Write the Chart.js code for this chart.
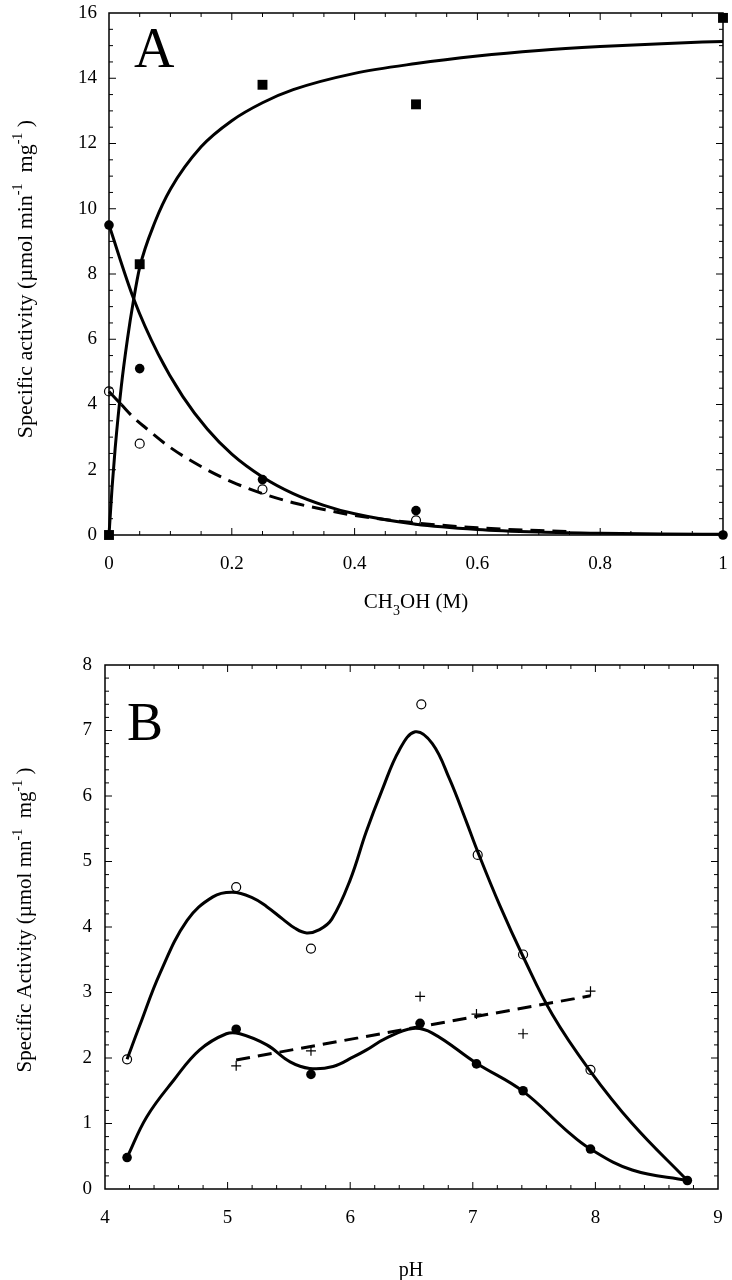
<!DOCTYPE html>
<html>
<head>
<meta charset="utf-8">
<script src="https://cdn.jsdelivr.net/npm/chart.js@4/dist/chart.umd.min.js"></script>
<style>
  html, body { margin: 0; padding: 0; background: #fff; }
  body { width: 732px; height: 1280px; position: relative; overflow: hidden; }
  canvas { position: absolute; left: 0; }
  #chartA { top: 0; }
  #chartB { top: 640px; }
</style>
</head>
<body>
<canvas id="chartA" width="732" height="620"></canvas>
<canvas id="chartB" width="732" height="640"></canvas>
<script>
// Panel A: methanol concentration (M)
const methanolX = [0, 0.05, 0.25, 0.5, 1];
const squaresA = [0, 8.3, 13.8, 13.2, 15.85];
const filledA = [9.5, 5.1, 1.7, 0.75, 0.0];
const openAX = [0, 0.05, 0.25, 0.5];
const openA = [4.4, 2.8, 1.4, 0.45];

// fitted curves
const riseX = [0, 0.005, 0.01, 0.02, 0.03, 0.04, 0.05, 0.075, 0.1, 0.15, 0.2, 0.25, 0.3, 0.4, 0.5, 0.6, 0.7, 0.8, 0.9, 1.0];
const riseY = [0, 1.45, 2.65, 4.55, 6.0, 7.2, 8.2, 9.6, 10.6, 11.9, 12.7, 13.25, 13.65, 14.15, 14.45, 14.68, 14.85, 14.97, 15.06, 15.13];
const decayX = [0, 0.04, 0.08, 0.12, 0.16, 0.2, 0.25, 0.3, 0.35, 0.4, 0.5, 0.6, 0.7, 0.8, 0.9, 1.0];
const decayY = [9.5, 7.25, 5.55, 4.25, 3.25, 2.48, 1.78, 1.27, 0.91, 0.65, 0.33, 0.17, 0.09, 0.05, 0.03, 0.02];
const dashX = [0, 0.02, 0.04, 0.06, 0.1, 0.15, 0.2, 0.25, 0.3, 0.35, 0.4, 0.5, 0.6, 0.75];
const dashY = [4.4, 4.0, 3.6, 3.28, 2.68, 2.1, 1.63, 1.27, 0.99, 0.78, 0.6, 0.37, 0.22, 0.1];

// Panel B: pH
const openBX = [4.18, 5.07, 5.68, 6.58, 7.04, 7.41, 7.96];
const openB = [1.98, 4.61, 3.67, 7.40, 5.10, 3.58, 1.82];
const filledBX = [4.18, 5.07, 5.68, 6.57, 7.03, 7.41, 7.96, 8.75];
const filledB = [0.48, 2.44, 1.75, 2.53, 1.91, 1.50, 0.61, 0.13];
const crossBX = [5.07, 5.68, 6.57, 7.03, 7.41, 7.96];
const crossB = [1.88, 2.11, 2.94, 2.67, 2.37, 3.02];

const openCurveX = [4.18, 4.28, 4.45, 4.67, 4.88, 5.04, 5.2, 5.32, 5.45, 5.55, 5.645, 5.75, 5.85, 6.0, 6.13, 6.26, 6.4, 6.53, 6.67, 6.81, 6.945, 7.04, 7.22, 7.41, 7.65, 7.95, 8.3, 8.75];
const openCurveY = [1.98, 2.48, 3.3, 4.1, 4.46, 4.53, 4.45, 4.31, 4.12, 3.98, 3.91, 3.96, 4.12, 4.72, 5.45, 6.09, 6.70, 6.98, 6.80, 6.26, 5.62, 5.15, 4.33, 3.55, 2.66, 1.82, 1.0, 0.13];
const filledCurveX = [4.18, 4.34, 4.56, 4.77, 4.99, 5.1, 5.32, 5.51, 5.67, 5.86, 6.03, 6.13, 6.29, 6.51, 6.67, 7.03, 7.41, 7.76, 7.96, 8.3, 8.75];
const filledCurveY = [0.48, 1.10, 1.66, 2.12, 2.37, 2.37, 2.2, 1.94, 1.84, 1.87, 2.02, 2.12, 2.30, 2.45, 2.38, 1.92, 1.49, 0.90, 0.61, 0.29, 0.13];
const crossLineX = [5.07, 7.96];
const crossLineY = [1.97, 2.95];

const SERIF = "'Liberation Serif', 'Times New Roman', serif";
Chart.defaults.font.family = SERIF;
Chart.defaults.font.size = 19;
Chart.defaults.color = '#000';

function pts(xs, ys) {
  return xs.map((x, i) => ({ x: x, y: ys[i] }));
}

function curve(xs, ys, dashed, smooth) {
  const ds = {
    data: pts(xs, ys),
    showLine: true,
    pointRadius: 0,
    borderColor: '#000',
    borderWidth: 3,
    borderDash: dashed ? [14, 8] : [],
    clip: false
  };
  if (smooth) ds.tension = 0.4;
  else ds.cubicInterpolationMode = 'monotone';
  return ds;
}

function marks(xs, ys, style, radius, fill) {
  return {
    data: pts(xs, ys),
    showLine: false,
    pointStyle: style,
    pointRadius: radius,
    pointBackgroundColor: fill,
    pointBorderColor: '#000',
    pointBorderWidth: fill === '#fff' || style === 'cross' ? 1.2 : 0,
    clip: false
  };
}

// frame box + inward ticks on all four sides
const frameTicks = {
  id: 'frameTicks',
  afterDraw(chart, args, opts) {
    const ctx = chart.ctx;
    const a = chart.chartArea;
    const xs = chart.scales.x;
    const ys = chart.scales.y;
    ctx.save();
    ctx.strokeStyle = '#000';
    ctx.lineWidth = 1.5;
    ctx.strokeRect(a.left, a.top, a.right - a.left, a.bottom - a.top);
    ctx.lineWidth = 1;
    ctx.beginPath();
    const nx = Math.round((xs.max - xs.min) / opts.xMinor);
    for (let i = 1; i < nx; i++) {
      const v = xs.min + i * opts.xMinor;
      const major = Math.abs(v / opts.xMajor - Math.round(v / opts.xMajor)) < 1e-6;
      const len = major ? 7 : 4;
      const px = xs.getPixelForValue(v);
      ctx.moveTo(px, a.bottom); ctx.lineTo(px, a.bottom - len);
      ctx.moveTo(px, a.top); ctx.lineTo(px, a.top + len);
    }
    const ny = Math.round((ys.max - ys.min) / opts.yMinor);
    for (let i = 1; i < ny; i++) {
      const v = ys.min + i * opts.yMinor;
      const major = Math.abs(v / opts.yMajor - Math.round(v / opts.yMajor)) < 1e-6;
      const len = major ? 7 : 4;
      const py = ys.getPixelForValue(v);
      ctx.moveTo(a.left, py); ctx.lineTo(a.left + len, py);
      ctx.moveTo(a.right, py); ctx.lineTo(a.right - len, py);
    }
    ctx.stroke();
    ctx.restore();
  }
};

// draws text made of runs: [text, 'n' | 'sup' | 'sub']
function drawRuns(ctx, runs, size, cx, cy, rotate) {
  ctx.save();
  ctx.translate(cx, cy);
  if (rotate) ctx.rotate(-Math.PI / 2);
  ctx.fillStyle = '#000';
  ctx.textBaseline = 'alphabetic';
  ctx.textAlign = 'left';
  const small = Math.round(size * 0.65);
  let total = 0;
  runs.forEach(r => {
    ctx.font = (r[1] === 'n' ? size : small) + 'px ' + SERIF;
    total += ctx.measureText(r[0]).width;
  });
  let x = -total / 2;
  const base = size * 0.35;
  runs.forEach(r => {
    ctx.font = (r[1] === 'n' ? size : small) + 'px ' + SERIF;
    let dy = 0;
    if (r[1] === 'sup') dy = -size * 0.45;
    if (r[1] === 'sub') dy = size * 0.3;
    ctx.fillText(r[0], x, base + dy);
    x += ctx.measureText(r[0]).width;
  });
  ctx.restore();
}

const labels = {
  id: 'labels',
  afterDraw(chart, args, opts) {
    const ctx = chart.ctx;
    drawRuns(ctx, opts.yTitle, opts.ySize, opts.yPos[0], opts.yPos[1], true);
    drawRuns(ctx, opts.xTitle, opts.xSize, opts.xPos[0], opts.xPos[1], false);
    ctx.save();
    ctx.fillStyle = '#000';
    ctx.font = opts.letterSize + 'px ' + SERIF;
    ctx.textBaseline = 'alphabetic';
    ctx.fillText(opts.letter, opts.letterPos[0], opts.letterPos[1]);
    ctx.restore();
  }
};

function makeChart(id, datasets, o) {
  return new Chart(document.getElementById(id), {
    type: 'scatter',
    data: { datasets: datasets },
    options: {
      responsive: false,
      animation: false,
      devicePixelRatio: 1,
      layout: { padding: { top: o.top, right: o.right, left: 0, bottom: 0 } },
      plugins: {
        legend: { display: false },
        tooltip: { enabled: false },
        frameTicks: o.ticks,
        labels: o.labels
      },
      scales: {
        x: {
          type: 'linear',
          min: o.xMin, max: o.xMax,
          grid: { display: false, drawTicks: false },
          border: { display: false },
          ticks: { stepSize: o.ticks.xMajor, padding: o.xPad, maxRotation: 0, autoSkip: false,
                   callback: v => +v.toFixed(2) + '' },
          afterFit: s => { s.height = o.xHeight; s.paddingLeft = 0; s.paddingRight = 0; }
        },
        y: {
          type: 'linear',
          min: o.yMin, max: o.yMax,
          grid: { display: false, drawTicks: false },
          border: { display: false },
          ticks: { stepSize: o.ticks.yMajor, padding: o.yPad, autoSkip: false },
          afterFit: s => { s.width = o.yWidth; s.paddingTop = 0; s.paddingBottom = 0; }
        }
      }
    },
    plugins: [frameTicks, labels]
  });
}

makeChart('chartA', [
  curve(riseX, riseY, false, false),
  curve(decayX, decayY, false, false),
  Object.assign(curve(dashX, dashY, true, false), {
    segment: { borderDash: c => c.p0DataIndex === 0 ? [] : [14, 8] }
  }),
  marks(openAX, openA, 'circle', 4.5, '#fff'),
  marks(methanolX, filledA, 'circle', 4.8, '#000'),
  marks(methanolX, squaresA, 'rect', 7, '#000')
], {
  top: 13, right: 9, xHeight: 85, yWidth: 109, xPad: 18, yPad: 12,
  xMin: 0, xMax: 1, yMin: 0, yMax: 16,
  ticks: { xMajor: 0.2, xMinor: 0.05, yMajor: 2, yMinor: 0.5 },
  labels: {
    yTitle: [['Specific activity (µmol min', 'n'], ['-1', 'sup'], ['  mg', 'n'], ['-1', 'sup'], [' )', 'n']],
    ySize: 22, yPos: [24, 279],
    xTitle: [['CH', 'n'], ['3', 'sub'], ['OH (M)', 'n']],
    xSize: 21, xPos: [416, 601],
    letter: 'A', letterSize: 56, letterPos: [134, 67]
  }
});

makeChart('chartB', [
  curve(openCurveX, openCurveY, false, true),
  curve(filledCurveX, filledCurveY, false, true),
  curve(crossLineX, crossLineY, true, false),
  marks(openBX, openB, 'circle', 4.5, '#fff'),
  marks(filledBX, filledB, 'circle', 4.8, '#000'),
  marks(crossBX, crossB, 'cross', 5, '#000')
], {
  top: 25, right: 14, xHeight: 91, yWidth: 105, xPad: 18, yPad: 13,
  xMin: 4, xMax: 9, yMin: 0, yMax: 8,
  ticks: { xMajor: 1, xMinor: 0.2, yMajor: 1, yMinor: 0.2 },
  labels: {
    yTitle: [['Specific Activity (µmol mn', 'n'], ['-1', 'sup'], ['  mg', 'n'], ['-1', 'sup'], [' )', 'n']],
    ySize: 21, yPos: [24, 280],
    xTitle: [['pH', 'n']],
    xSize: 20, xPos: [411, 629],
    letter: 'B', letterSize: 54, letterPos: [127, 100]
  }
});
</script>
</body>
</html>
